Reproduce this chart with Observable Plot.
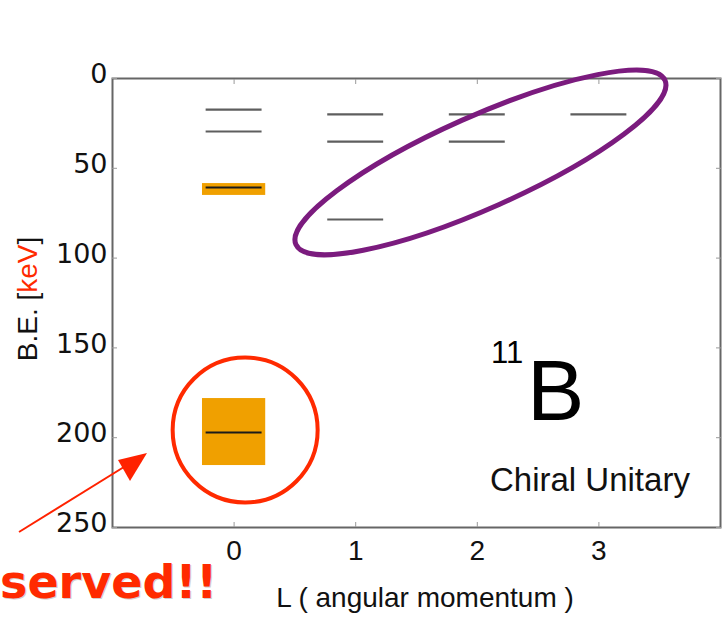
<!DOCTYPE html>
<html><head><meta charset="utf-8">
<script src="https://cdn.jsdelivr.net/npm/d3@7"></script>
<script src="https://cdn.jsdelivr.net/npm/@observablehq/plot@0.6"></script>
<style>body{margin:0;background:#fff;overflow:hidden}</style>
</head><body><div id="chart"></div>
<script>
// Energy levels of 11B (chiral unitary), binding energy in keV
const angularMomentum = [0, 0, 0, 0, 1, 1, 1, 2, 2, 3];
const bindingEnergy   = [17.3, 29.5, 60.7, 197.1, 20.0, 35.1, 78.5, 20.0, 35.1, 20.0];
const observedLevel   = [false, false, true, true, false, false, false, false, false, false];
// observed bands (orange boxes)
const bandL    = [0, 0];
const bandLow  = [58.5, 178.2];
const bandHigh = [65.1, 215.5];
const xTicks = [0, 1, 2, 3];
const yTicks = [0, 50, 100, 150, 200, 250];

const levels = angularMomentum.map((L, i) => ({L, be: bindingEnergy[i], obs: observedLevel[i]}));
const bands = bandL.map((L, i) => ({L, lo: bandLow[i], hi: bandHigh[i]}));

const W = 724, H = 619;
const sans = "Liberation Sans, Arial, sans-serif";
const verd = "DejaVu Sans, Verdana, sans-serif";

const chart = Plot.plot({
  width: W, height: H,
  marginLeft: 112, marginRight: 4, marginTop: 78, marginBottom: 92,
  x: {domain: [-1, 4], axis: null},
  y: {domain: [0, 250], reverse: true, axis: null},
  style: {background: "#fff"},
  marks: [
    Plot.rect(bands, {x1: d => d.L - 0.26, x2: d => d.L + 0.26, y1: "lo", y2: "hi", fill: "#f0a000"}),
    Plot.ruleY(levels, {y: "be", x1: d => d.L - 0.23, x2: d => d.L + 0.23,
      stroke: d => d.obs ? "#1a1a1a" : "#5e5e5e", strokeWidth: 2.2}),
    Plot.frame({stroke: "#666", strokeWidth: 2}),
    // tick labels
    Plot.text(yTicks, {y: d => d, text: d => String(d), frameAnchor: "left", textAnchor: "end",
      dx: -5, dy: -4, fontSize: 27, fontFamily: verd, fill: "#111"}),
    Plot.text(xTicks, {x: d => d, text: d => String(d), frameAnchor: "bottom", lineAnchor: "top",
      dy: 13, fontSize: 28, fontFamily: sans, fill: "#111"}),
    // inward ticks on all sides
    Plot.axisY(yTicks, {anchor: "left", tickSize: 5, dx: 5, tickFormat: () => "", label: null, stroke: "#999"}),
    Plot.axisY(yTicks, {anchor: "right", tickSize: 5, dx: -5, tickFormat: () => "", label: null, stroke: "#999"}),
    Plot.axisX(xTicks, {anchor: "bottom", tickSize: 5, dy: -5, tickFormat: () => "", label: null, stroke: "#999"}),
    Plot.axisX(xTicks, {anchor: "top", tickSize: 5, dy: 5, tickFormat: () => "", label: null, stroke: "#999"})
  ]
});
document.getElementById("chart").appendChild(chart);

const svg = d3.select(chart);
const x = chart.scale("x"), y = chart.scale("y");

// purple ellipse around the predicted levels
const ecx = x.apply(2.03), ecy = y.apply(47);
svg.append("ellipse").attr("cx", ecx).attr("cy", ecy).attr("rx", 202).attr("ry", 46)
  .attr("transform", `rotate(-24 ${ecx} ${ecy})`)
  .attr("fill", "none").attr("stroke", "#7b1b7e").attr("stroke-width", 5);

// red circle around the ground-state band
svg.append("circle").attr("cx", x.apply(0.095)).attr("cy", y.apply(196)).attr("r", 72.5)
  .attr("fill", "none").attr("stroke", "#ff2a00").attr("stroke-width", 4);

// red arrow
svg.append("line").attr("x1", 19).attr("y1", 532).attr("x2", 132).attr("y2", 462)
  .attr("stroke", "#ff2200").attr("stroke-width", 2);
svg.append("polygon").attr("points", "147,453 118,460 130,481").attr("fill", "#ff2200");

// y label
const yl = svg.append("text").attr("transform", "translate(37,299) rotate(-90)")
  .attr("text-anchor", "middle").attr("font-family", sans).attr("font-size", 28).attr("fill", "#111");
yl.append("tspan").text("B.E. [");
yl.append("tspan").attr("fill", "#ff2a00").text("keV");
yl.append("tspan").text("]");

// x label
svg.append("text").attr("x", 425).attr("y", 607).attr("text-anchor", "middle")
  .attr("font-family", sans).attr("font-size", 28).attr("fill", "#111").text("L ( angular momentum )");

// nucleus label
const ann = (t, px, py, size, fill, extra = {}) => {
  const el = svg.append("text").attr("x", px).attr("y", py).attr("text-anchor", "start")
    .attr("font-family", extra.family || sans).attr("font-size", size).attr("fill", fill).text(t);
  if (extra.bold) el.attr("font-weight", "bold");
  return el;
};
ann("11", 491, 363, 31, "#000");
ann("B", 527, 420, 86, "#000");
ann("Chiral Unitary", 490, 491, 33, "#111");

// observed annotation
ann("served!!", 1, 599, 46, "#d0d0d0", {family: verd, bold: true});
ann("served!!", 0, 598, 46, "#ff2a00", {family: verd, bold: true});
</script>
</body></html>
